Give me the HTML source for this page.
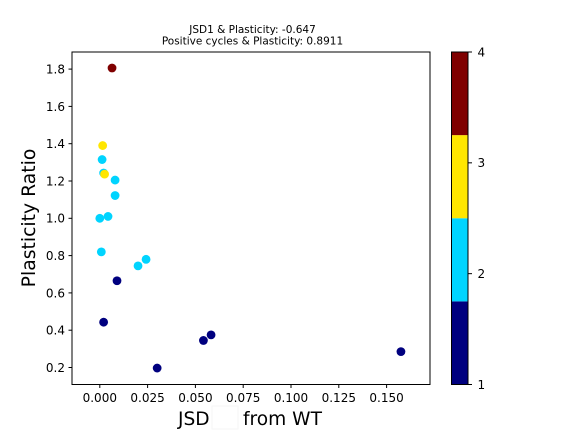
<!DOCTYPE html>
<html>
<head>
<meta charset="utf-8">
<style>
html,body{margin:0;padding:0;background:#fff;}
svg{display:block;font-family:"DejaVu Sans","Liberation Sans",sans-serif;}
</style>
</head>
<body>
<svg id="chart" width="576" height="432" viewBox="0 0 576 432">
<rect width="576" height="432" fill="#fff"/>
<text x="252.5" y="33" font-size="10.5" text-anchor="middle" fill="#000">JSD1 &amp; Plasticity: -0.647</text>
<text x="252.5" y="44.5" font-size="10.5" text-anchor="middle" fill="#000">Positive cycles &amp; Plasticity: 0.8911</text>
<g id="plot"></g>
<rect x="212" y="406" width="26" height="23" fill="#fff" stroke="#f6f6f6"/>
<text y="425" font-size="18.6" fill="#000"><tspan x="178">JSD</tspan><tspan x="243">from WT</tspan></text>
<text transform="translate(35,218) rotate(-90)" font-size="18.8" text-anchor="middle" fill="#000">Plasticity Ratio</text>
</svg>
<script>
const xValues = [0.0064,0.0015,0.0025,0.0012,0.0020,0.0080,0.0080,0.0000,0.0043,0.0008,0.0200,0.0242,0.0090,0.0020,0.0300,0.0542,0.0582,0.1575];
const yValues = [1.806,1.390,1.237,1.315,1.243,1.205,1.122,1.000,1.010,0.820,0.745,0.780,0.665,0.443,0.197,0.345,0.375,0.285];
const classValues = [4,3,3,2,2,2,2,2,2,2,2,2,1,1,1,1,1,1];
const drawOrder = [12,13,14,15,16,17,3,4,5,6,7,8,9,10,11,1,2,0];
const xTicks = [0,0.025,0.05,0.075,0.1,0.125,0.15];
const xTickLabels = ["0.000","0.025","0.050","0.075","0.100","0.125","0.150"];
const yTicks = [0.2,0.4,0.6,0.8,1.0,1.2,1.4,1.6,1.8];
const yTickLabels = ["0.2","0.4","0.6","0.8","1.0","1.2","1.4","1.6","1.8"];
const colorbarTicks = [1,2,3,4];
const classBins = [1,2,3,4];
const classColors = ["#00007f","#00d4ff","#ffe600","#7f0000"];

const NS = "http://www.w3.org/2000/svg";
const plot = document.getElementById("plot");
const L = 72, R = 430, T = 52, B = 384.5;
const xScale = v => 99.8 + v * 1912;
const yScale = v => 218.3 - (v - 1) * 186.5;
const cbL = 451.5, cbR = 468;
const cScale = v => 384.5 - (v - 1) * (332.5 / 3);
function make(tag, attrs, text) {
  const el = document.createElementNS(NS, tag);
  for (const k in attrs) el.setAttribute(k, attrs[k]);
  if (text !== undefined) el.textContent = text;
  plot.appendChild(el);
  return el;
}
function colorFor(c) {
  const i = Math.min(classBins.length - 1, Math.floor((c - 1) / 0.75));
  return classColors[i];
}
drawOrder.forEach(i => {
  const p = make("circle", {cx: xScale(xValues[i]), cy: yScale(yValues[i]), r: 4.4, fill: colorFor(classValues[i])});
  
  
});
const frame = make("path", {d: `M${L} ${B}V${T}H${R}V${B}Z`, fill: "none", stroke: "#000", "stroke-width": 1});


xTicks.forEach((v, i) => {
  const x = xScale(v);
  const t = make("line", {x1: x, x2: x, y1: B, y2: B + 3.5, stroke: "#000", "stroke-width": 1});
  
  
  const l = make("text", {x: x, y: 402, "font-size": 12, "text-anchor": "middle", fill: "#000"}, xTickLabels[i]);
  
  
});
yTicks.forEach((v, i) => {
  const y = yScale(v);
  const t = make("line", {x1: L, x2: L - 3.5, y1: y, y2: y, stroke: "#000", "stroke-width": 1});
  
  
  const l = make("text", {x: 65, y: y + 4.4, "font-size": 12, "text-anchor": "end", fill: "#000"}, yTickLabels[i]);
  
  
});
classBins.forEach((c, i) => {
  const top = cScale(1 + (i + 1) * 0.75), bot = cScale(1 + i * 0.75);
  const r = make("rect", {x: cbL, y: top, width: cbR - cbL, height: bot - top, fill: classColors[i]});
  
  
});
const cbFrame = make("path", {d: `M${cbL} ${B}V${T}H${cbR}V${B}Z`, fill: "none", stroke: "#000", "stroke-width": 1});


colorbarTicks.forEach(v => {
  const y = cScale(v);
  const t = make("line", {x1: cbR, x2: cbR + 4, y1: y, y2: y, stroke: "#000", "stroke-width": 1});
  
  
  const l = make("text", {x: cbR + 9.5, y: y + 4.4, "font-size": 12, fill: "#000"}, String(v));
  
  
});
</script>
</body>
</html>
